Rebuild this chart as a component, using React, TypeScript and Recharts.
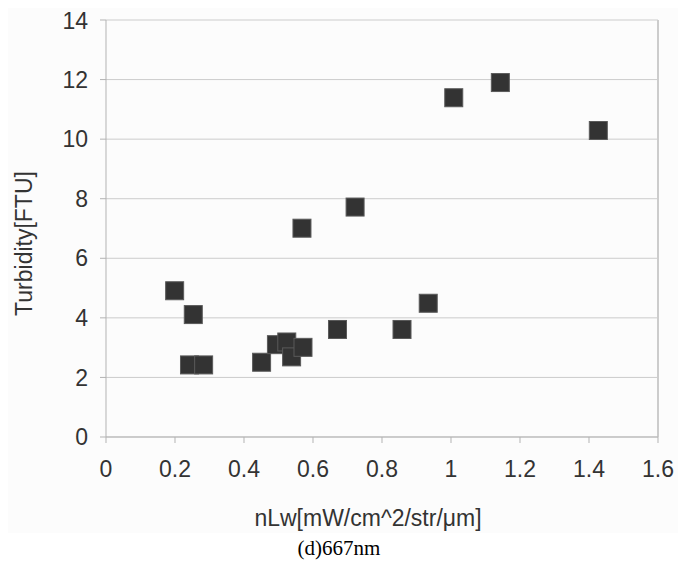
import {
  ScatterChart,
  Scatter,
  XAxis,
  YAxis,
  CartesianGrid,
  ReferenceLine,
} from "recharts";

// nLw (x) vs turbidity (y)
const NLW = [
  0.199, 0.253, 0.242, 0.283, 0.451, 0.494, 0.524, 0.538, 0.571, 0.568,
  0.671, 0.722, 0.858, 0.934, 1.008, 1.143, 1.427,
];
const TURBIDITY = [
  4.91, 4.11, 2.42, 2.42, 2.51, 3.1, 3.19, 2.69, 3.01, 7.01, 3.61, 7.72,
  3.61, 4.49, 11.39, 11.9, 10.29,
];
const X_TICKS = [0, 0.2, 0.4, 0.6, 0.8, 1, 1.2, 1.4, 1.6];
const Y_TICKS = [0, 2, 4, 6, 8, 10, 12, 14];

const points = NLW.map((x, i) => ({ x, y: TURBIDITY[i] }));

const FONT = "'Liberation Sans', Arial, sans-serif";
const textStyle = { fontSize: 23, fill: "#333", fontFamily: FONT };

const SQ = 18;

function Square(props: any) {
  const { cx, cy } = props;
  if (cx == null || cy == null) return null;
  return (
    <rect
      x={cx - SQ / 2}
      y={cy - SQ / 2}
      width={SQ}
      height={SQ}
      fill="#333333"
      stroke="#5a5a5a"
      strokeWidth={1}
    />
  );
}

function YLabel(props: any) {
  const vb = props.viewBox;
  const cx = vb.x + 16;
  const cy = vb.y + vb.height / 2 + 15;
  return (
    <text
      x={cx}
      y={cy}
      transform={`rotate(-90, ${cx}, ${cy})`}
      textAnchor="middle"
      dominantBaseline="central"
      style={textStyle}
    >
      Turbidity[FTU]
    </text>
  );
}

export default function App() {
  return (
    <div>
      <div style={{ width: 670, height: 525, background: "#fcfcfc" }}>
        <ScatterChart
          width={670}
          height={525}
          margin={{ top: 12, right: 20, left: 0, bottom: 0 }}
        >
          <CartesianGrid vertical={false} stroke="#cccccc" />
          <XAxis
            type="number"
            dataKey="x"
            domain={[0, 1.6]}
            ticks={X_TICKS}
            tick={textStyle}
            tickSize={6}
            tickMargin={18}
            height={96}
            stroke="#b3b3b3"
            label={{
              value: "nLw[mW/cm^2/str/μm]",
              position: "insideBottom",
              offset: 7,
              dx: -14,
              style: textStyle,
            }}
          />
          <YAxis
            type="number"
            dataKey="y"
            domain={[0, 14]}
            ticks={Y_TICKS}
            tick={textStyle}
            tickSize={6}
            tickMargin={12}
            width={98}
            stroke="#b3b3b3"
            label={<YLabel />}
          />
          <ReferenceLine x={1.6} stroke="#cccccc" strokeWidth={2} />
          <Scatter
            data={points}
            shape={<Square />}
            fill="#333333"
            isAnimationActive={false}
          />
        </ScatterChart>
      </div>
      <div
        style={{
          width: 662,
          textAlign: "center",
          marginTop: 3,
          fontFamily: "'Liberation Serif', 'Times New Roman', serif",
          fontSize: 21,
          lineHeight: "24px",
          color: "#000",
        }}
      >
        (d)667nm
      </div>
    </div>
  );
}
